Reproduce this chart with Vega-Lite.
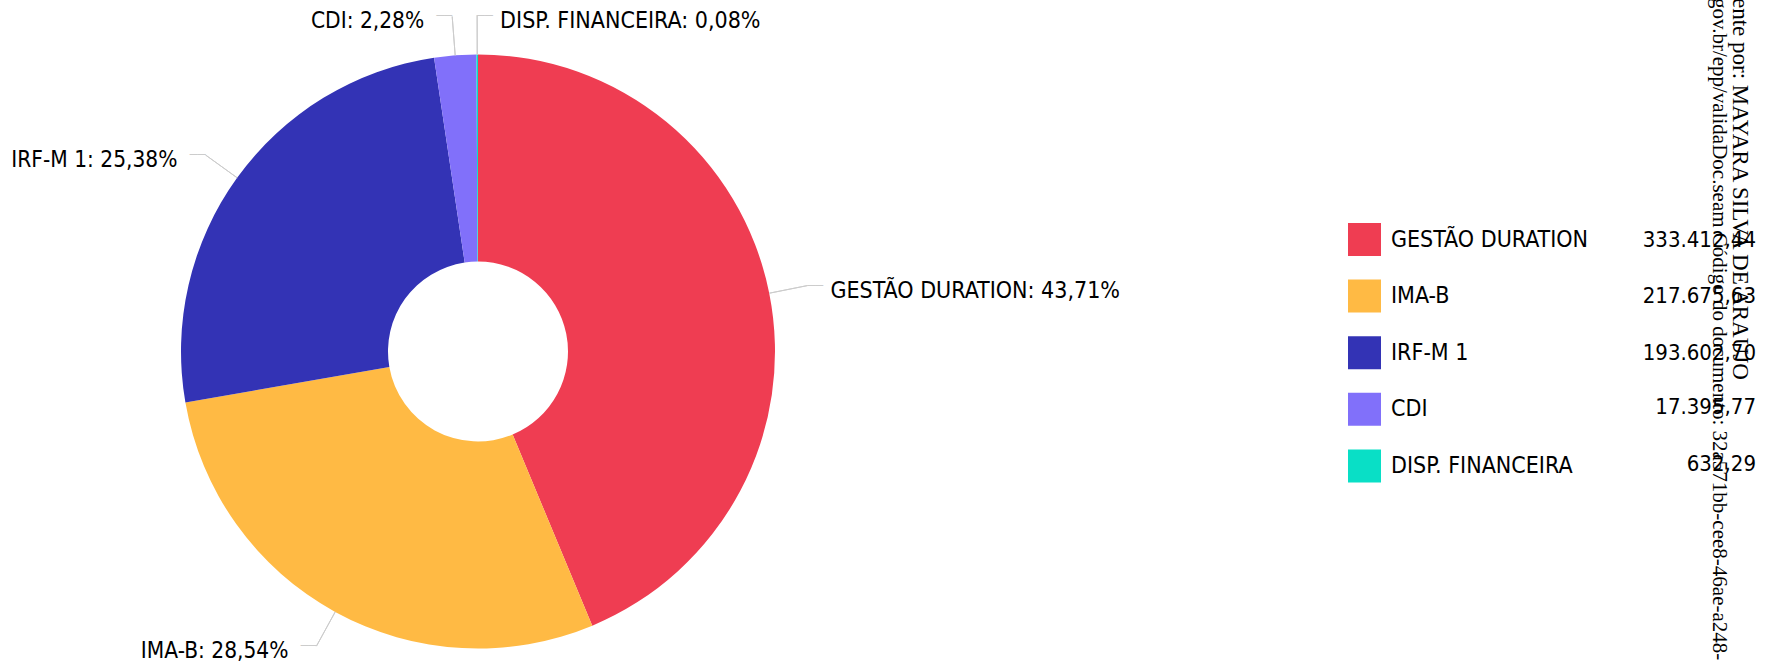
{
  "$schema": "https://vega.github.io/schema/vega-lite/v6.json",
  "width": 956,
  "height": 627,
  "padding": {"left": 0, "top": 38, "right": 824, "bottom": 0},
  "autosize": {"type": "none"},
  "background": "white",
  "config": {
    "view": {"stroke": null},
    "locale": {"number": {"decimal": ",", "thousands": ".", "grouping": [3], "currency": ["R$ ", ""]}}
  },
  "title": {
    "text": "ente por: MAYARA SILVA DE ARAUJO",
    "subtitle": "gov.br/epp/validaDoc.seam Código do documento: 32a571bb-cee8-46ae-a248-",
    "orient": "right",
    "anchor": "start",
    "frame": "group",
    "font": "Liberation Serif",
    "fontSize": 23,
    "fontWeight": "normal",
    "color": "#000000",
    "subtitleFont": "Liberation Serif",
    "subtitleFontSize": 21,
    "subtitleColor": "#000000",
    "subtitlePadding": -2,
    "offset": -47,
    "dx": -40
  },
  "data": {
    "values": [
      {"categoria": "GESTÃO DURATION", "valor": 333412.44},
      {"categoria": "IMA-B", "valor": 217675.63},
      {"categoria": "IRF-M 1", "valor": 193602.70},
      {"categoria": "CDI", "valor": 17395.77},
      {"categoria": "DISP. FINANCEIRA", "valor": 632.29}
    ]
  },
  "layer": [
    {
      "mark": {"type": "arc", "outerRadius": 297, "innerRadius": 90, "strokeWidth": 0},
      "encoding": {
        "theta": {"field": "valor", "type": "quantitative", "stack": true},
        "order": {"field": "valor", "type": "quantitative", "sort": "descending"},
        "color": {
          "field": "categoria",
          "type": "nominal",
          "scale": {
            "domain": ["GESTÃO DURATION", "IMA-B", "IRF-M 1", "CDI", "DISP. FINANCEIRA"],
            "range": ["#ef3d52", "#ffba44", "#3333b5", "#8170fa", "#09dfc6"]
          },
          "legend": {
            "orient": "none",
            "legendX": 1348,
            "legendY": 185,
            "title": null,
            "symbolType": "square",
            "symbolSize": 1089,
            "symbolStrokeWidth": 0,
            "symbolOpacity": 1,
            "labelFont": "DejaVu Sans Condensed",
            "labelFontSize": 23,
            "labelColor": "#000000",
            "labelOffset": 10,
            "labelLimit": 400,
            "rowPadding": 23.6,
            "padding": 0
          }
        }
      }
    },
    {
      "mark": {"type": "point", "opacity": 0},
      "encoding": {
        "shape": {
          "field": "valor",
          "type": "nominal",
          "sort": "descending",
          "legend": {
            "orient": "none",
            "legendX": 1348,
            "legendY": 185,
            "title": null,
            "symbolType": "square",
            "symbolSize": 1089,
            "symbolOpacity": 0,
            "symbolStrokeWidth": 0,
            "labelExpr": "format(datum.value, ',.2f')",
            "labelAlign": "right",
            "labelFont": "DejaVu Sans Condensed",
            "labelFontSize": 22,
            "labelColor": "#000000",
            "labelOffset": 375,
            "labelLimit": 400,
            "rowPadding": 23.6,
            "padding": 0
          }
        }
      }
    },
    {
      "transform": [
        {"joinaggregate": [{"op": "sum", "field": "valor", "as": "total"}]},
        {"fold": ["valor", "valor"], "as": ["copia", "parte"]},
        {"stack": "parte", "groupby": [], "sort": [{"field": "valor", "order": "descending"}], "offset": "normalize", "as": ["a0", "a1"]},
        {"window": [{"op": "row_number", "as": "n"}], "groupby": ["categoria"], "sort": [{"field": "a0", "order": "ascending"}]},
        {"filter": "datum.n == 2"}
      ],
      "layer": [
        {
          "mark": {"type": "arc", "outerRadius": 336, "innerRadius": 297, "filled": false, "stroke": "#cccccc", "strokeWidth": 1},
          "encoding": {
            "theta": {"field": "a0", "type": "quantitative", "scale": {"domain": [0, 1]}},
            "theta2": {"field": "a0"}
          }
        },
        {
          "transform": [{"filter": {"field": "categoria", "oneOf": ["GESTÃO DURATION", "DISP. FINANCEIRA"]}}],
          "mark": {"type": "text", "text": "──", "font": "DejaVu Sans", "fontSize": 13, "color": "#cccccc", "align": "left", "baseline": "middle", "radius": 336},
          "encoding": {"theta": {"field": "a0", "type": "quantitative", "stack": null, "scale": {"domain": [0, 1]}}}
        },
        {
          "transform": [{"filter": {"field": "categoria", "oneOf": ["IMA-B", "IRF-M 1", "CDI"]}}],
          "mark": {"type": "text", "text": "──", "font": "DejaVu Sans", "fontSize": 13, "color": "#cccccc", "align": "right", "baseline": "middle", "radius": 336},
          "encoding": {"theta": {"field": "a0", "type": "quantitative", "stack": null, "scale": {"domain": [0, 1]}}}
        },
        {
          "transform": [{"filter": {"field": "categoria", "oneOf": ["GESTÃO DURATION", "DISP. FINANCEIRA"]}}],
          "mark": {"type": "text", "text": {"expr": "datum.categoria + ': ' + format(datum.valor / datum.total, '.2%')"}, "font": "DejaVu Sans Condensed", "fontSize": 23, "color": "#000000", "align": "left", "baseline": "middle", "radius": 336, "dx": 23, "dy": 5},
          "encoding": {"theta": {"field": "a0", "type": "quantitative", "stack": null, "scale": {"domain": [0, 1]}}}
        },
        {
          "transform": [{"filter": {"field": "categoria", "oneOf": ["IMA-B", "IRF-M 1", "CDI"]}}],
          "mark": {"type": "text", "text": {"expr": "datum.categoria + ': ' + format(datum.valor / datum.total, '.2%')"}, "font": "DejaVu Sans Condensed", "fontSize": 22.5, "color": "#000000", "align": "right", "baseline": "middle", "radius": 336, "dx": -28, "dy": 5},
          "encoding": {"theta": {"field": "a0", "type": "quantitative", "stack": null, "scale": {"domain": [0, 1]}}}
        }
      ]
    }
  ],
  "resolve": {"scale": {"theta": "independent"}}
}
